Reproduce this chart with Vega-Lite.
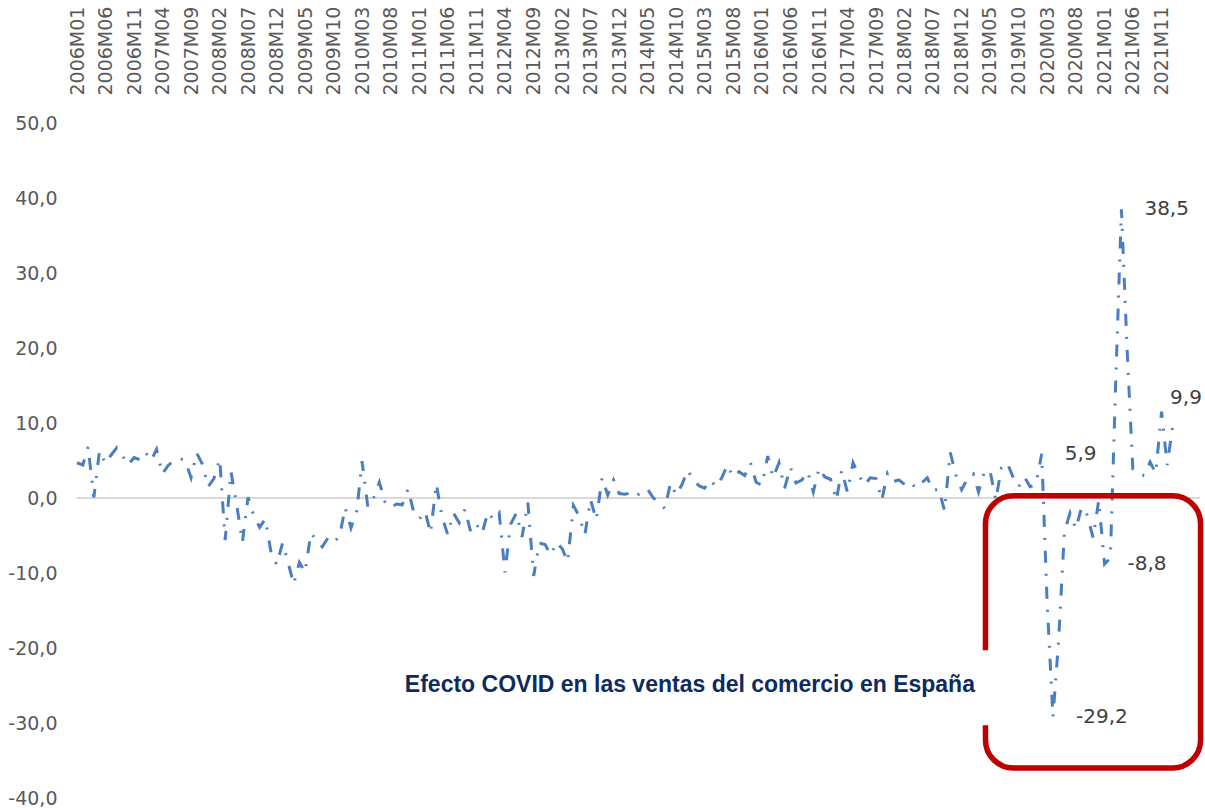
{
  "$schema": "https://vega.github.io/schema/vega-lite/v6.json",
  "width": 1123,
  "height": 675,
  "autosize": {"type": "none"},
  "padding": {"left": 77, "top": 123, "right": 5, "bottom": 10},
  "background": "white",
  "config": {
    "view": {"stroke": null},
    "axis": {"labelOverlap": false, "labelFlush": false},
    "locale": {"number": {"decimal": ",", "thousands": ".", "grouping": [3], "currency": ["", " €"], "minus": "-"}}
  },
  "resolve": {"axis": {"x": "independent", "y": "independent"}},
  "data": {
    "format": {"parse": {"periodo": "date:'%YM%m'"}},
    "values": [
      {"periodo": "2006M01", "valor": 4.7}, {"periodo": "2006M02", "valor": 4.4}, {"periodo": "2006M03", "valor": 6.8}, {"periodo": "2006M04", "valor": 0.1}, {"periodo": "2006M05", "valor": 6.3}, {"periodo": "2006M06", "valor": 4.6}, {"periodo": "2006M07", "valor": 5.7}, {"periodo": "2006M08", "valor": 6.7}, {"periodo": "2006M09", "valor": 5.6}, {"periodo": "2006M10", "valor": 4.4}, {"periodo": "2006M11", "valor": 5.4}, {"periodo": "2006M12", "valor": 5.1},
      {"periodo": "2007M01", "valor": 6.1}, {"periodo": "2007M02", "valor": 5.0}, {"periodo": "2007M03", "valor": 6.5}, {"periodo": "2007M04", "valor": 3.2}, {"periodo": "2007M05", "valor": 4.3}, {"periodo": "2007M06", "valor": 5.0}, {"periodo": "2007M07", "valor": 5.3}, {"periodo": "2007M08", "valor": 5.0}, {"periodo": "2007M09", "valor": 2.7}, {"periodo": "2007M10", "valor": 6.0}, {"periodo": "2007M11", "valor": 4.5}, {"periodo": "2007M12", "valor": 1.5},
      {"periodo": "2008M01", "valor": 2.6}, {"periodo": "2008M02", "valor": 5.2}, {"periodo": "2008M03", "valor": -5.6}, {"periodo": "2008M04", "valor": 3.5}, {"periodo": "2008M05", "valor": -0.8}, {"periodo": "2008M06", "valor": -5.9}, {"periodo": "2008M07", "valor": 0.1}, {"periodo": "2008M08", "valor": -2.4}, {"periodo": "2008M09", "valor": -3.9}, {"periodo": "2008M10", "valor": -2.8}, {"periodo": "2008M11", "valor": -7.3}, {"periodo": "2008M12", "valor": -8.9},
      {"periodo": "2009M01", "valor": -6.0}, {"periodo": "2009M02", "valor": -8.7}, {"periodo": "2009M03", "valor": -11.5}, {"periodo": "2009M04", "valor": -8.6}, {"periodo": "2009M05", "valor": -9.9}, {"periodo": "2009M06", "valor": -4.7}, {"periodo": "2009M07", "valor": -5.6}, {"periodo": "2009M08", "valor": -6.5}, {"periodo": "2009M09", "valor": -5.3}, {"periodo": "2009M10", "valor": -5.9}, {"periodo": "2009M11", "valor": -5.1}, {"periodo": "2009M12", "valor": -1.3},
      {"periodo": "2010M01", "valor": -4.0}, {"periodo": "2010M02", "valor": -1.7}, {"periodo": "2010M03", "valor": 4.9}, {"periodo": "2010M04", "valor": -1.2}, {"periodo": "2010M05", "valor": 0.0}, {"periodo": "2010M06", "valor": 2.1}, {"periodo": "2010M07", "valor": -0.5}, {"periodo": "2010M08", "valor": -1.3}, {"periodo": "2010M09", "valor": -0.8}, {"periodo": "2010M10", "valor": -0.9}, {"periodo": "2010M11", "valor": 1.2}, {"periodo": "2010M12", "valor": -1.8},
      {"periodo": "2011M01", "valor": -2.8}, {"periodo": "2011M02", "valor": -1.8}, {"periodo": "2011M03", "valor": -4.7}, {"periodo": "2011M04", "valor": 1.9}, {"periodo": "2011M05", "valor": -2.5}, {"periodo": "2011M06", "valor": -4.9}, {"periodo": "2011M07", "valor": -2.0}, {"periodo": "2011M08", "valor": -3.3}, {"periodo": "2011M09", "valor": -1.5}, {"periodo": "2011M10", "valor": -4.5}, {"periodo": "2011M11", "valor": -3.5}, {"periodo": "2011M12", "valor": -4.7},
      {"periodo": "2012M01", "valor": -1.9}, {"periodo": "2012M02", "valor": -2.9}, {"periodo": "2012M03", "valor": -2.0}, {"periodo": "2012M04", "valor": -9.9}, {"periodo": "2012M05", "valor": -3.5}, {"periodo": "2012M06", "valor": -2.0}, {"periodo": "2012M07", "valor": -5.2}, {"periodo": "2012M08", "valor": -0.6}, {"periodo": "2012M09", "valor": -10.4}, {"periodo": "2012M10", "valor": -6.0}, {"periodo": "2012M11", "valor": -6.2}, {"periodo": "2012M12", "valor": -7.6},
      {"periodo": "2013M01", "valor": -5.9}, {"periodo": "2013M02", "valor": -6.8}, {"periodo": "2013M03", "valor": -8.5}, {"periodo": "2013M04", "valor": -1.0}, {"periodo": "2013M05", "valor": -2.4}, {"periodo": "2013M06", "valor": -4.9}, {"periodo": "2013M07", "valor": -0.2}, {"periodo": "2013M08", "valor": -2.9}, {"periodo": "2013M09", "valor": 2.7}, {"periodo": "2013M10", "valor": 0.4}, {"periodo": "2013M11", "valor": 2.4}, {"periodo": "2013M12", "valor": 0.6},
      {"periodo": "2014M01", "valor": 0.5}, {"periodo": "2014M02", "valor": 0.7}, {"periodo": "2014M03", "valor": 0.2}, {"periodo": "2014M04", "valor": 0.9}, {"periodo": "2014M05", "valor": 1.2}, {"periodo": "2014M06", "valor": 0.0}, {"periodo": "2014M07", "valor": -0.5}, {"periodo": "2014M08", "valor": -1.4}, {"periodo": "2014M09", "valor": 2.0}, {"periodo": "2014M10", "valor": 0.4}, {"periodo": "2014M11", "valor": 1.8}, {"periodo": "2014M12", "valor": 3.7},
      {"periodo": "2015M01", "valor": 2.4}, {"periodo": "2015M02", "valor": 1.6}, {"periodo": "2015M03", "valor": 1.3}, {"periodo": "2015M04", "valor": 2.4}, {"periodo": "2015M05", "valor": 1.5}, {"periodo": "2015M06", "valor": 2.7}, {"periodo": "2015M07", "valor": 4.4}, {"periodo": "2015M08", "valor": 2.8}, {"periodo": "2015M09", "valor": 3.5}, {"periodo": "2015M10", "valor": 3.0}, {"periodo": "2015M11", "valor": 4.7}, {"periodo": "2015M12", "valor": 2.1},
      {"periodo": "2016M01", "valor": 1.7}, {"periodo": "2016M02", "valor": 5.6}, {"periodo": "2016M03", "valor": 2.7}, {"periodo": "2016M04", "valor": 4.7}, {"periodo": "2016M05", "valor": 1.3}, {"periodo": "2016M06", "valor": 4.1}, {"periodo": "2016M07", "valor": 2.0}, {"periodo": "2016M08", "valor": 2.4}, {"periodo": "2016M09", "valor": 3.5}, {"periodo": "2016M10", "valor": 0.8}, {"periodo": "2016M11", "valor": 4.0}, {"periodo": "2016M12", "valor": 2.8},
      {"periodo": "2017M01", "valor": 2.5}, {"periodo": "2017M02", "valor": -0.3}, {"periodo": "2017M03", "valor": 3.7}, {"periodo": "2017M04", "valor": 0.8}, {"periodo": "2017M05", "valor": 4.7}, {"periodo": "2017M06", "valor": 3.0}, {"periodo": "2017M07", "valor": 1.7}, {"periodo": "2017M08", "valor": 2.7}, {"periodo": "2017M09", "valor": 2.6}, {"periodo": "2017M10", "valor": -0.3}, {"periodo": "2017M11", "valor": 3.3}, {"periodo": "2017M12", "valor": 2.2},
      {"periodo": "2018M01", "valor": 2.4}, {"periodo": "2018M02", "valor": 1.8}, {"periodo": "2018M03", "valor": 2.2}, {"periodo": "2018M04", "valor": 1.3}, {"periodo": "2018M05", "valor": 2.0}, {"periodo": "2018M06", "valor": 2.7}, {"periodo": "2018M07", "valor": 1.0}, {"periodo": "2018M08", "valor": 1.2}, {"periodo": "2018M09", "valor": -1.7}, {"periodo": "2018M10", "valor": 6.1}, {"periodo": "2018M11", "valor": 3.0}, {"periodo": "2018M12", "valor": 1.1},
      {"periodo": "2019M01", "valor": 2.6}, {"periodo": "2019M02", "valor": 3.2}, {"periodo": "2019M03", "valor": 0.8}, {"periodo": "2019M04", "valor": 3.5}, {"periodo": "2019M05", "valor": 3.7}, {"periodo": "2019M06", "valor": -0.3}, {"periodo": "2019M07", "valor": 4.0}, {"periodo": "2019M08", "valor": 4.7}, {"periodo": "2019M09", "valor": 2.8}, {"periodo": "2019M10", "valor": 1.5}, {"periodo": "2019M11", "valor": 2.8}, {"periodo": "2019M12", "valor": 1.5},
      {"periodo": "2020M01", "valor": 1.8}, {"periodo": "2020M02", "valor": 5.9}, {"periodo": "2020M03", "valor": -14.0}, {"periodo": "2020M04", "valor": -29.2}, {"periodo": "2020M05", "valor": -19.0}, {"periodo": "2020M06", "valor": -4.5}, {"periodo": "2020M07", "valor": -2.0}, {"periodo": "2020M08", "valor": -4.1}, {"periodo": "2020M09", "valor": -1.2}, {"periodo": "2020M10", "valor": -2.3}, {"periodo": "2020M11", "valor": -5.3}, {"periodo": "2020M12", "valor": -0.3},
      {"periodo": "2021M01", "valor": -8.8}, {"periodo": "2021M02", "valor": -8.0}, {"periodo": "2021M03", "valor": 15.0}, {"periodo": "2021M04", "valor": 38.5}, {"periodo": "2021M05", "valor": 20.0}, {"periodo": "2021M06", "valor": 3.8}, {"periodo": "2021M07", "valor": 3.2}, {"periodo": "2021M08", "valor": 3.0}, {"periodo": "2021M09", "valor": 4.8}, {"periodo": "2021M10", "valor": 3.3}, {"periodo": "2021M11", "valor": 11.5}, {"periodo": "2021M12", "valor": 4.4},
      {"periodo": "2022M01", "valor": 9.9}
    ]
  },
  "layer": [
    {
      "data": {"values": [{}]},
      "mark": {"type": "rule", "color": "#d9d9d9", "strokeWidth": 2},
      "encoding": {"y": {"datum": 0, "type": "quantitative", "axis": null}}
    },
    {
      "mark": {"type": "line", "color": "#4a7ebf", "strokeWidth": 3, "strokeDash": [12, 11, 2, 11]},
      "encoding": {
        "x": {
          "field": "periodo", "type": "temporal",
          "scale": {"domain": [{"year": 2006, "month": 1, "date": 1}, {"year": 2022, "month": 5, "date": 25}], "nice": false},
          "axis": {
            "orient": "top", "title": null, "format": "%YM%m",
            "values": [
              {"year": 2006, "month": 1, "date": 1}, {"year": 2006, "month": 6, "date": 1}, {"year": 2006, "month": 11, "date": 1},
              {"year": 2007, "month": 4, "date": 1}, {"year": 2007, "month": 9, "date": 1}, {"year": 2008, "month": 2, "date": 1},
              {"year": 2008, "month": 7, "date": 1}, {"year": 2008, "month": 12, "date": 1}, {"year": 2009, "month": 5, "date": 1},
              {"year": 2009, "month": 10, "date": 1}, {"year": 2010, "month": 3, "date": 1}, {"year": 2010, "month": 8, "date": 1},
              {"year": 2011, "month": 1, "date": 1}, {"year": 2011, "month": 6, "date": 1}, {"year": 2011, "month": 11, "date": 1},
              {"year": 2012, "month": 4, "date": 1}, {"year": 2012, "month": 9, "date": 1}, {"year": 2013, "month": 2, "date": 1},
              {"year": 2013, "month": 7, "date": 1}, {"year": 2013, "month": 12, "date": 1}, {"year": 2014, "month": 5, "date": 1},
              {"year": 2014, "month": 10, "date": 1}, {"year": 2015, "month": 3, "date": 1}, {"year": 2015, "month": 8, "date": 1},
              {"year": 2016, "month": 1, "date": 1}, {"year": 2016, "month": 6, "date": 1}, {"year": 2016, "month": 11, "date": 1},
              {"year": 2017, "month": 4, "date": 1}, {"year": 2017, "month": 9, "date": 1}, {"year": 2018, "month": 2, "date": 1},
              {"year": 2018, "month": 7, "date": 1}, {"year": 2018, "month": 12, "date": 1}, {"year": 2019, "month": 5, "date": 1},
              {"year": 2019, "month": 10, "date": 1}, {"year": 2020, "month": 3, "date": 1}, {"year": 2020, "month": 8, "date": 1},
              {"year": 2021, "month": 1, "date": 1}, {"year": 2021, "month": 6, "date": 1}, {"year": 2021, "month": 11, "date": 1}
            ],
            "labelAngle": -90, "labelAlign": "left", "labelBaseline": "middle",
            "labelPadding": 28, "labelFont": "DejaVu Sans", "labelFontSize": 19, "labelColor": "#595959",
            "ticks": false, "domain": false, "grid": false, "labelOverlap": false, "labelFlush": false
          }
        },
        "y": {
          "field": "valor", "type": "quantitative",
          "scale": {"domain": [-40, 50], "nice": false, "zero": false},
          "axis": {
            "title": null, "values": [-40, -30, -20, -10, 0, 10, 20, 30, 40, 50], "format": ".1f",
            "labelPadding": 20, "labelFont": "DejaVu Sans", "labelFontSize": 19, "labelColor": "#595959",
            "ticks": false, "domain": false, "grid": false, "labelOverlap": false, "labelFlush": false
          }
        }
      }
    },
    {
      "data": {"values": [{}]},
      "mark": {"type": "rect", "filled": false, "stroke": "#c00000", "strokeWidth": 5.5, "cornerRadius": 28},
      "encoding": {
        "x": {"datum": {"year": 2019, "month": 4, "date": 7}, "type": "temporal", "axis": null},
        "x2": {"datum": {"year": 2022, "month": 5, "date": 28}},
        "y": {"datum": 0.3, "type": "quantitative", "axis": null},
        "y2": {"datum": -36}
      }
    },
    {
      "data": {"values": [{}]},
      "mark": {"type": "rect", "fill": "white"},
      "encoding": {
        "x": {"datum": {"year": 2019, "month": 3, "date": 14}, "type": "temporal", "axis": null},
        "x2": {"datum": {"year": 2019, "month": 5, "date": 7}},
        "y": {"datum": -20.3, "type": "quantitative", "axis": null},
        "y2": {"datum": -30.3}
      }
    },
    {
      "data": {"values": [{}]},
      "mark": {"type": "text", "text": "Efecto COVID en las ventas del comercio en España", "font": "Liberation Sans", "fontWeight": "bold", "fontSize": 23, "color": "#0d2b5e", "align": "right", "baseline": "alphabetic"},
      "encoding": {
        "x": {"datum": {"year": 2019, "month": 2, "date": 10}, "type": "temporal", "axis": null},
        "y": {"datum": -25.9, "type": "quantitative", "axis": null}
      }
    },
    {
      "transform": [{"filter": {"field": "valor", "oneOf": [38.5, 5.9, -8.8, -29.2]}}],
      "mark": {"type": "text", "align": "left", "baseline": "middle", "dx": 23, "font": "DejaVu Sans", "fontSize": 20, "color": "#404040"},
      "encoding": {
        "x": {"field": "periodo", "type": "temporal", "axis": null},
        "y": {"field": "valor", "type": "quantitative", "axis": null},
        "text": {"field": "valor", "type": "quantitative", "format": ".1f"}
      }
    },
    {
      "transform": [{"filter": {"field": "valor", "equal": 9.9}}],
      "mark": {"type": "text", "align": "center", "baseline": "middle", "dx": 13, "dy": -26, "font": "DejaVu Sans", "fontSize": 20, "color": "#404040"},
      "encoding": {
        "x": {"field": "periodo", "type": "temporal", "axis": null},
        "y": {"field": "valor", "type": "quantitative", "axis": null},
        "text": {"field": "valor", "type": "quantitative", "format": ".1f"}
      }
    }
  ]
}
